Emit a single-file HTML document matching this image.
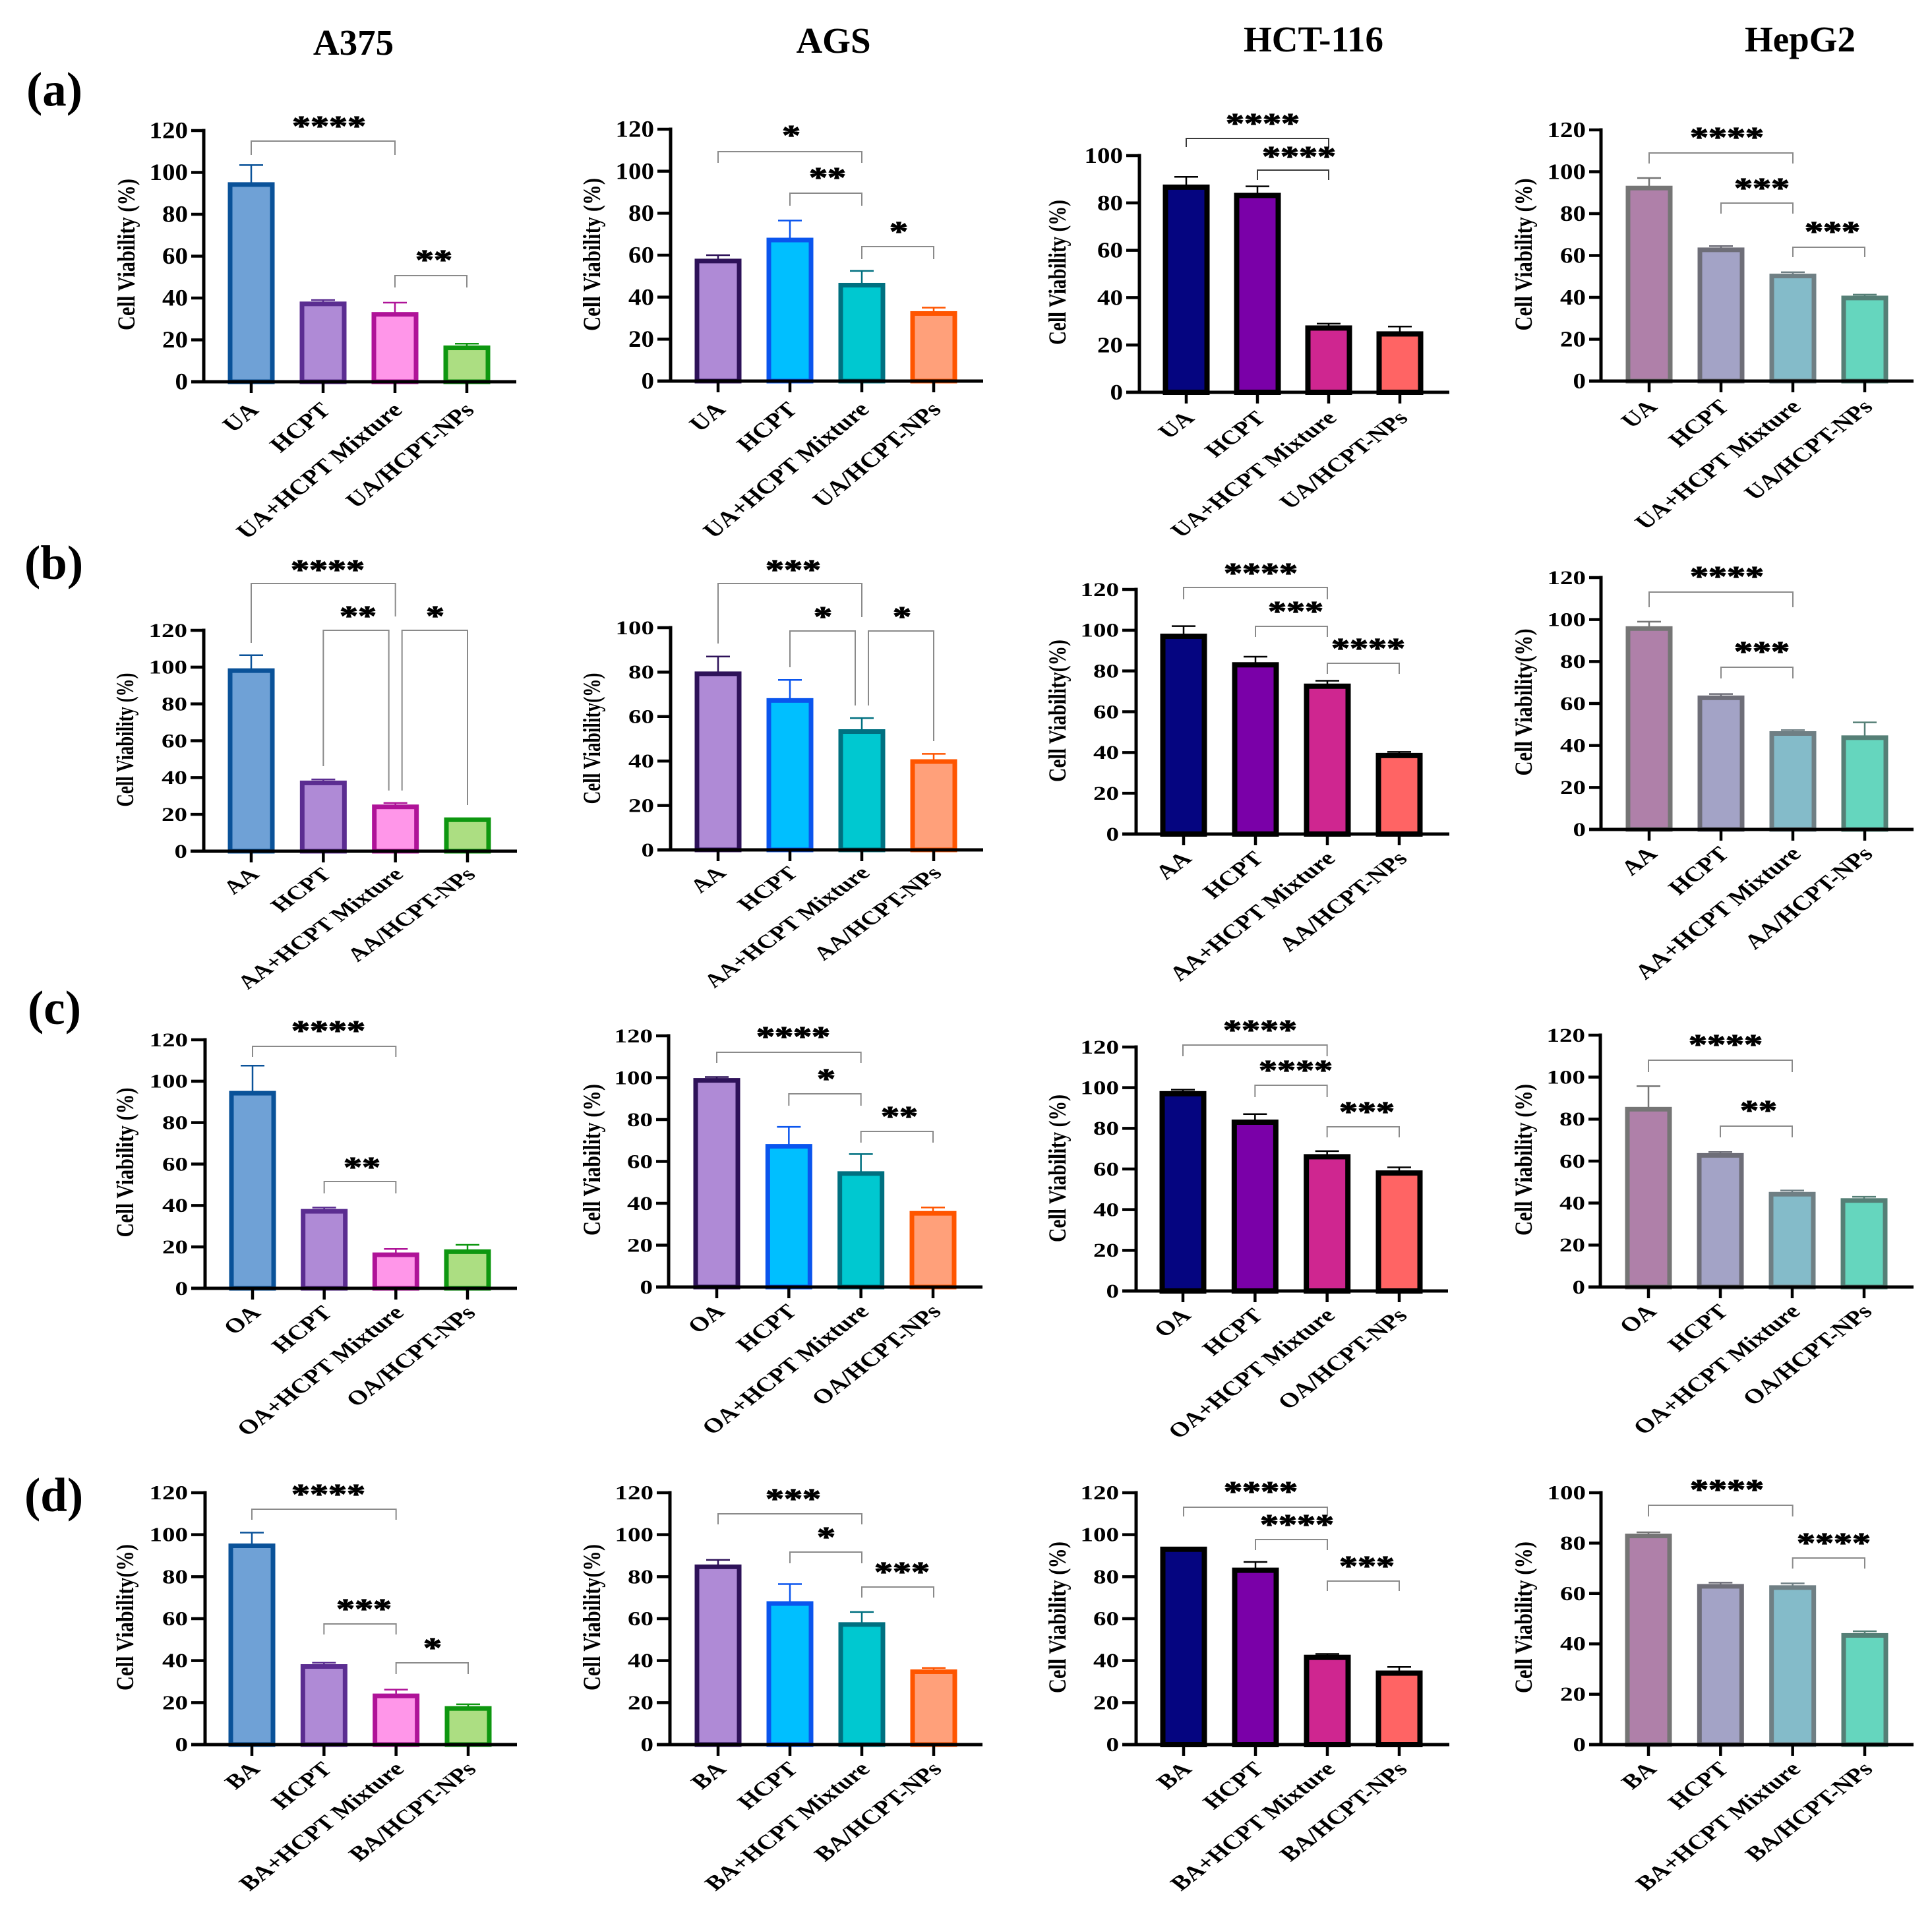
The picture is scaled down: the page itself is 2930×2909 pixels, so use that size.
<!DOCTYPE html>
<html lang="en">
<head>
<meta charset="utf-8">
<title>Cell Viability Bar Charts</title>
<style>
  html, body { margin: 0; padding: 0; background: #ffffff; }
  svg { display: block; }
  text { font-family: "Liberation Serif", serif; font-weight: bold; fill: #000; }
</style>
</head>
<body>
<svg id="figure" xmlns="http://www.w3.org/2000/svg" width="2930" height="2909" viewBox="0 0 2930 2909">
  <rect x="0" y="0" width="2930" height="2909" fill="#ffffff"/>
  <text x="536" y="83" text-anchor="middle" font-size="55">A375</text>
  <text x="1264" y="80" text-anchor="middle" font-size="55">AGS</text>
  <text x="1992" y="78" text-anchor="middle" font-size="55">HCT-116</text>
  <text x="2730" y="78" text-anchor="middle" font-size="55">HepG2</text>
  <text x="40" y="160" font-size="73">(a)</text>
  <text x="37" y="878" font-size="73">(b)</text>
  <text x="42" y="1553" font-size="73">(c)</text>
  <text x="37" y="2292" font-size="73">(d)</text>
</svg>
<script>
// ---- tick labels ----
const ticks120 = [0, 20, 40, 60, 80, 100, 120];
const ticks100 = [0, 20, 40, 60, 80, 100];

// ---- categories ----
const categoriesUA = ['UA', 'HCPT', 'UA+HCPT Mixture', 'UA/HCPT-NPs'];
const categoriesAA = ['AA', 'HCPT', 'AA+HCPT Mixture', 'AA/HCPT-NPs'];
const categoriesOA = ['OA', 'HCPT', 'OA+HCPT Mixture', 'OA/HCPT-NPs'];
const categoriesBA = ['BA', 'HCPT', 'BA+HCPT Mixture', 'BA/HCPT-NPs'];

// ---- series values (cell viability, %) and upper error bars ----
const valuesA1 = [95, 38, 33, 17];
const errorsA1 = [8.5, 1, 4.8, 1.2];
const valuesA2 = [58, 68, 46.5, 33];
const errorsA2 = [2, 8.5, 6, 2];
const valuesA3 = [87.5, 84, 28, 25.5];
const errorsA3 = [3.5, 3, 1, 2.3];
const valuesA4 = [93, 63.5, 51, 40.5];
const errorsA4 = [4, 1, 1, 0.8];

const valuesB1 = [99, 38, 25, 18];
const errorsB1 = [7.5, 1, 1.2, 0];
const valuesB2 = [80, 68, 54, 40.5];
const errorsB2 = [7, 8.5, 5.3, 2.7];
const valuesB3 = [98, 84, 73.5, 39.5];
const errorsB3 = [4, 3, 1.7, 0.8];
const valuesB4 = [96.5, 63.5, 46.5, 44.5];
const errorsB4 = [2.5, 1, 0.8, 6.5];

const valuesC1 = [95, 38, 17, 18.5];
const errorsC1 = [12.5, 1, 2, 2.5];
const valuesC2 = [99.5, 68, 55, 36];
const errorsC2 = [0.8, 8.5, 8.5, 2];
const valuesC3 = [98, 84, 67, 59];
const errorsC3 = [1, 3, 1.8, 1.8];
const valuesC4 = [85.5, 63.5, 45, 42];
const errorsC4 = [10.2, 0.8, 1, 1];

const valuesD1 = [95.5, 38, 24, 18];
const errorsD1 = [5.5, 1, 2.2, 1.2];
const valuesD2 = [85.5, 68, 58, 35.5];
const errorsD2 = [2.5, 8.5, 5.2, 1];
const valuesD3 = [94, 84, 42.5, 35];
const errorsD3 = [0, 3, 0.7, 2];
const valuesD4 = [83.5, 63.5, 63, 44];
const errorsD4 = [0.8, 0.8, 1, 1];

// ---- per-column bar styling ----
const palettes = {
  a375: { fills: ['#6FA1D6', '#AF8AD6', '#FF96E9', '#ACDE82'], strokes: ['#0A5299', '#5B2D91', '#AF1398', '#0E9710'], sw: 7 },
  ags:  { fills: ['#AF8AD6', '#00BFFF', '#00C8D0', '#FFA07A'], strokes: ['#2E1259', '#0A55EE', '#007080', '#FF5500'], sw: 7 },
  hct:  { fills: ['#050580', '#7A00A8', '#CF2690', '#FF6464'], strokes: ['#000000', '#000000', '#000000', '#000000'], sw: 8 },
  hep:  { fills: ['#AF80A9', '#A3A3C6', '#84BBC9', '#65D6BE'], strokes: ['#757575', '#6E6E78', '#6F7F84', '#557F76'], sw: 7 }
};

// ---- panel frames, axis-title placement and significance annotations ----
const panels = [
  { id: 'a-a375', pal: 'a375', cats: categoriesUA, vals: valuesA1, errs: errorsA1, ticks: ticks120, yMax: 120, x1: 381, x4: 708, ax: 309, xs: 290, xe: 783, y0: 579, yt: 198, r: 0.82, tr: 0.88, lx: 7, ly: 44,
    title: 'Cell Viability (%)', tx: 193, ty: 386, tl: 230,
    br: [{ a: 0, b: 2, y: 214, la: 235, lb: 235, s: '****', sx: 499, sy: 187 }, { a: 2, b: 3, y: 418, la: 436, lb: 436, s: '**', sx: 658, sy: 390 }] },
  { id: 'a-ags', pal: 'ags', cats: categoriesUA, vals: valuesA2, errs: errorsA2, ticks: ticks120, yMax: 120, x1: 1089, x4: 1416, ax: 1017, xs: 997, xe: 1491, y0: 578, yt: 196, r: 0.82, tr: 0.88, lx: 7, ly: 44,
    title: 'Cell Viability (%)', tx: 899, ty: 386, tl: 232,
    br: [{ a: 0, b: 2, y: 230, la: 247, lb: 247, s: '*', sx: 1200, sy: 201 }, { a: 1, b: 2, y: 293, la: 312, lb: 312, s: '**', sx: 1255, sy: 265 }, { a: 2, b: 3, y: 374, la: 393, lb: 393, s: '*', sx: 1363, sy: 347 }] },
  { id: 'a-hct', pal: 'hct', cats: categoriesUA, vals: valuesA3, errs: errorsA3, ticks: ticks100, yMax: 100, x1: 1799, x4: 2123, ax: 1728, xs: 1708, xe: 2198, y0: 595, yt: 236, r: 0.76, tr: 0.84, lx: 8, ly: 40, dark: true,
    title: 'Cell Viability (%)', tx: 1605, ty: 413, tl: 220,
    br: [{ a: 0, b: 2, y: 210, la: 223, lb: 223, s: '****', sx: 1915, sy: 183 }, { a: 1, b: 2, y: 258, la: 273, lb: 273, s: '****', sx: 1970, sy: 233 }] },
  { id: 'a-hep', pal: 'hep', cats: categoriesUA, vals: valuesA4, errs: errorsA4, ticks: ticks120, yMax: 120, x1: 2501, x4: 2828, ax: 2428, xs: 2410, xe: 2902, y0: 578, yt: 197, r: 0.78, tr: 0.84, lx: 8, ly: 40,
    title: 'Cell Viability (%)', tx: 2312, ty: 386, tl: 231,
    br: [{ a: 0, b: 2, y: 232, la: 248, lb: 248, s: '****', sx: 2619, sy: 204 }, { a: 1, b: 2, y: 308, la: 324, lb: 324, s: '***', sx: 2672, sy: 281 }, { a: 2, b: 3, y: 375, la: 390, lb: 390, s: '***', sx: 2779, sy: 347 }] },

  { id: 'b-a375', pal: 'a375', cats: categoriesAA, vals: valuesB1, errs: errorsB1, ticks: ticks120, yMax: 120, x1: 381, x4: 709, ax: 309, xs: 289, xe: 784, y0: 1291, yt: 956, r: 0.73, tr: 0.74, lx: 8, ly: 36,
    title: 'Cell Viability (%)', tx: 191, ty: 1122, tl: 203,
    br: [{ a: 0, b: 2, y: 885, la: 975, lb: 935, s: '****', sx: 497, sy: 860 }, { a: 1, b: 2, y: 956, la: 1162, lb: 1199, s: '**', sx: 543, sy: 930, db: -10 }, { a: 2, b: 3, y: 956, la: 1199, lb: 1221, s: '*', sx: 660, sy: 930, da: 10 }] },
  { id: 'b-ags', pal: 'ags', cats: categoriesAA, vals: valuesB2, errs: errorsB2, ticks: ticks100, yMax: 100, x1: 1089, x4: 1416, ax: 1017, xs: 997, xe: 1491, y0: 1289, yt: 952, r: 0.73, tr: 0.74, lx: 8, ly: 36,
    title: 'Cell Viability(%)', tx: 899, ty: 1120, tl: 199,
    br: [{ a: 0, b: 2, y: 885, la: 976, lb: 936, s: '***', sx: 1203, sy: 860 }, { a: 1, b: 2, y: 957, la: 1012, lb: 1070, s: '*', sx: 1248, sy: 931, db: -10 }, { a: 2, b: 3, y: 957, la: 1070, lb: 1124, s: '*', sx: 1368, sy: 931, da: 10 }] },
  { id: 'b-hct', pal: 'hct', cats: categoriesAA, vals: valuesB3, errs: errorsB3, ticks: ticks120, yMax: 120, x1: 1795, x4: 2122, ax: 1723, xs: 1702, xe: 2198, y0: 1265, yt: 894, r: 0.78, tr: 0.74, lx: 8, ly: 38,
    title: 'Cell Viability(%)', tx: 1605, ty: 1078, tl: 216,
    br: [{ a: 0, b: 2, y: 891, la: 909, lb: 909, s: '****', sx: 1912, sy: 865 }, { a: 1, b: 2, y: 950, la: 966, lb: 966, s: '***', sx: 1965, sy: 923 }, { a: 2, b: 3, y: 1006, la: 1022, lb: 1022, s: '****', sx: 2075, sy: 979 }] },
  { id: 'b-hep', pal: 'hep', cats: categoriesAA, vals: valuesB4, errs: errorsB4, ticks: ticks120, yMax: 120, x1: 2501, x4: 2828, ax: 2428, xs: 2410, xe: 2902, y0: 1258, yt: 876, r: 0.80, tr: 0.74, lx: 8, ly: 38,
    title: 'Cell Viability(%)', tx: 2312, ty: 1065, tl: 223,
    br: [{ a: 0, b: 2, y: 898, la: 921, lb: 921, s: '****', sx: 2619, sy: 870 }, { a: 1, b: 2, y: 1012, la: 1029, lb: 1029, s: '***', sx: 2672, sy: 984 }] },

  { id: 'c-a375', pal: 'a375', cats: categoriesOA, vals: valuesC1, errs: errorsC1, ticks: ticks120, yMax: 120, x1: 383, x4: 709, ax: 311, xs: 290, xe: 784, y0: 1954, yt: 1577, r: 0.78, tr: 0.74, lx: 8, ly: 38,
    title: 'Cell Viability (%)', tx: 191, ty: 1763, tl: 227,
    br: [{ a: 0, b: 2, y: 1587, la: 1603, lb: 1603, s: '****', sx: 498, sy: 1559 }, { a: 1, b: 2, y: 1792, la: 1810, lb: 1810, s: '**', sx: 549, sy: 1766 }] },
  { id: 'c-ags', pal: 'ags', cats: categoriesOA, vals: valuesC2, errs: errorsC2, ticks: ticks120, yMax: 120, x1: 1087, x4: 1415, ax: 1014, xs: 995, xe: 1490, y0: 1952, yt: 1571, r: 0.78, tr: 0.74, lx: 8, ly: 38,
    title: 'Cell Viability (%)', tx: 899, ty: 1759, tl: 230,
    br: [{ a: 0, b: 2, y: 1596, la: 1612, lb: 1612, s: '****', sx: 1203, sy: 1568 }, { a: 1, b: 2, y: 1659, la: 1677, lb: 1677, s: '*', sx: 1253, sy: 1632 }, { a: 2, b: 3, y: 1716, la: 1733, lb: 1733, s: '**', sx: 1364, sy: 1689 }] },
  { id: 'c-hct', pal: 'hct', cats: categoriesOA, vals: valuesC3, errs: errorsC3, ticks: ticks120, yMax: 120, x1: 1794, x4: 2122, ax: 1723, xs: 1702, xe: 2196, y0: 1958, yt: 1588, r: 0.78, tr: 0.74, lx: 8, ly: 38,
    title: 'Cell Viability (%)', tx: 1605, ty: 1772, tl: 224,
    br: [{ a: 0, b: 2, y: 1585, la: 1602, lb: 1602, s: '****', sx: 1911, sy: 1558 }, { a: 1, b: 2, y: 1646, la: 1664, lb: 1664, s: '****', sx: 1965, sy: 1619 }, { a: 2, b: 3, y: 1709, la: 1725, lb: 1725, s: '***', sx: 2073, sy: 1682 }] },
  { id: 'c-hep', pal: 'hep', cats: categoriesOA, vals: valuesC4, errs: errorsC4, ticks: ticks120, yMax: 120, x1: 2500, x4: 2827, ax: 2427, xs: 2409, xe: 2902, y0: 1952, yt: 1570, r: 0.78, tr: 0.74, lx: 8, ly: 38,
    title: 'Cell Viability (%)', tx: 2312, ty: 1759, tl: 230,
    br: [{ a: 0, b: 2, y: 1608, la: 1626, lb: 1626, s: '****', sx: 2617, sy: 1580 }, { a: 1, b: 2, y: 1708, la: 1725, lb: 1725, s: '**', sx: 2667, sy: 1680 }] },

  { id: 'd-a375', pal: 'a375', cats: categoriesBA, vals: valuesD1, errs: errorsD1, ticks: ticks120, yMax: 120, x1: 382, x4: 710, ax: 311, xs: 290, xe: 784, y0: 2646, yt: 2264, r: 0.78, tr: 0.76, lx: 8, ly: 38,
    title: 'Cell Viability(%)', tx: 191, ty: 2453, tl: 222,
    br: [{ a: 0, b: 2, y: 2289, la: 2305, lb: 2305, s: '****', sx: 498, sy: 2262 }, { a: 1, b: 2, y: 2463, la: 2479, lb: 2479, s: '***', sx: 552, sy: 2436 }, { a: 2, b: 3, y: 2522, la: 2539, lb: 2539, s: '*', sx: 656, sy: 2495 }] },
  { id: 'd-ags', pal: 'ags', cats: categoriesBA, vals: valuesD2, errs: errorsD2, ticks: ticks120, yMax: 120, x1: 1089, x4: 1416, ax: 1016, xs: 996, xe: 1490, y0: 2646, yt: 2264, r: 0.78, tr: 0.76, lx: 8, ly: 38,
    title: 'Cell Viability(%)', tx: 899, ty: 2453, tl: 222,
    br: [{ a: 0, b: 2, y: 2296, la: 2312, lb: 2312, s: '***', sx: 1203, sy: 2269 }, { a: 1, b: 2, y: 2354, la: 2371, lb: 2371, s: '*', sx: 1253, sy: 2327 }, { a: 2, b: 3, y: 2407, la: 2423, lb: 2423, s: '***', sx: 1368, sy: 2380 }] },
  { id: 'd-hct', pal: 'hct', cats: categoriesBA, vals: valuesD3, errs: errorsD3, ticks: ticks120, yMax: 120, x1: 1795, x4: 2122, ax: 1723, xs: 1702, xe: 2198, y0: 2646, yt: 2264, r: 0.78, tr: 0.76, lx: 8, ly: 38,
    title: 'Cell Viability (%)', tx: 1605, ty: 2453, tl: 230,
    br: [{ a: 0, b: 2, y: 2286, la: 2300, lb: 2300, s: '****', sx: 1912, sy: 2258 }, { a: 1, b: 2, y: 2335, la: 2351, lb: 2351, s: '****', sx: 1967, sy: 2308 }, { a: 2, b: 3, y: 2398, la: 2413, lb: 2413, s: '***', sx: 2073, sy: 2371 }] },
  { id: 'd-hep', pal: 'hep', cats: categoriesBA, vals: valuesD4, errs: errorsD4, ticks: ticks100, yMax: 100, x1: 2500, x4: 2828, ax: 2428, xs: 2410, xe: 2902, y0: 2646, yt: 2264, r: 0.78, tr: 0.76, lx: 8, ly: 38,
    title: 'Cell Viability (%)', tx: 2312, ty: 2453, tl: 230,
    br: [{ a: 0, b: 2, y: 2283, la: 2300, lb: 2300, s: '****', sx: 2619, sy: 2255 }, { a: 2, b: 3, y: 2363, la: 2379, lb: 2379, s: '****', sx: 2781, sy: 2336 }] }
];

const SVGNS = 'http://www.w3.org/2000/svg';
const figure = document.getElementById('figure');

function make(tag, attrs, parent) {
  const el = document.createElementNS(SVGNS, tag);
  for (const k in attrs) el.setAttribute(k, attrs[k]);
  parent.appendChild(el);
  return el;
}

function line(x1, y1, x2, y2, color, width, parent) {
  return make('line', { x1: x1, y1: y1, x2: x2, y2: y2, stroke: color, 'stroke-width': width }, parent);
}

function drawPanel(p) {
  const pal = palettes[p.pal];
  const g = make('g', {}, figure);
  
  

  const yScale = function (v) { return p.y0 - (v / p.yMax) * (p.y0 - p.yt); };
  const xScale = function (i) { return p.x1 + i * (p.x4 - p.x1) / (p.cats.length - 1); };
  const BAR_W = 71;

  // error bars and bars
  p.vals.forEach(function (v, i) {
    const cx = xScale(i);
    const color = pal.strokes[i];
    const err = p.errs[i];
    if (err > 0) {
      const eg = make('g', {}, g);
      
      
      line(cx, yScale(v), cx, yScale(v + err), color, 2.5, eg);
      line(cx - 18, yScale(v + err), cx + 18, yScale(v + err), color, 2.5, eg);
    }
    const top = yScale(v) - 1;
    const rect = make('rect', {
      x: cx - BAR_W / 2 + pal.sw / 2,
      y: top + pal.sw / 2,
      width: BAR_W - pal.sw,
      height: Math.max(0, p.y0 - top - pal.sw / 2),
      fill: pal.fills[i],
      stroke: color,
      'stroke-width': pal.sw
    }, g);
    
    
  });

  // y axis
  const yAxis = line(p.ax, p.yt - 2.5, p.ax, p.y0 + 2.5, '#000', 5, g);
  
  
  p.ticks.forEach(function (t) {
    const ty = yScale(t);
    const tick = line(p.xs, ty, p.ax, ty, '#000', 4.5, g);
    
    
    const lab = make('text', {
      x: 0, y: 0, 'text-anchor': 'end', 'font-size': 39,
      transform: 'translate(' + (p.xs - 5) + ',' + (ty + 13.2 * p.tr) + ') scale(1,' + (p.tr + 0.03) + ')'
    }, g);
    lab.textContent = String(t);
    
    
  });

  // x axis
  const xAxis = line(p.xs, p.y0, p.xe, p.y0, '#000', 5, g);
  
  
  p.cats.forEach(function (c, i) {
    const cx = xScale(i);
    const tick = line(cx, p.y0, cx, p.y0 + 17, '#000', 4.5, g);
    
    
    const lab = make('text', {
      x: 0, y: 0, 'text-anchor': 'end', 'font-size': 39.5,
      transform: 'translate(' + (cx + p.lx + 6) + ',' + (p.y0 + p.ly + 1) + ') scale(1,' + p.r + ') rotate(-45)'
    }, g);
    lab.textContent = c;
    
    
  });

  // y axis title
  const title = make('text', {
    x: 0, y: 0, 'text-anchor': 'middle', 'font-size': 37,
    textLength: p.tl, lengthAdjust: 'spacingAndGlyphs',
    transform: 'translate(' + (p.tx + 11) + ',' + p.ty + ') rotate(-90)'
  }, g);
  title.textContent = p.title;
  
  

  // significance brackets
  p.br.forEach(function (b) {
    const xa = xScale(b.a) + (b.da || 0);
    const xb = xScale(b.b) + (b.db || 0);
    const path = make('path', {
      d: 'M' + xa + ' ' + b.la + ' V' + b.y + ' H' + xb + ' V' + b.lb,
      fill: 'none',
      stroke: p.dark ? '#3a3a3a' : '#8a8a8a',
      'stroke-width': 2
    }, g);
    
    
    const star = make('text', {
      x: 0, y: 24, 'text-anchor': 'middle', 'font-size': 56,
      stroke: '#000', 'stroke-width': 1.5,
      transform: 'translate(' + b.sx + ',' + b.sy + ') scale(1,0.75)'
    }, g);
    star.textContent = b.s;
    
    
  });
}

panels.forEach(drawPanel);
</script>
</body>
</html>
